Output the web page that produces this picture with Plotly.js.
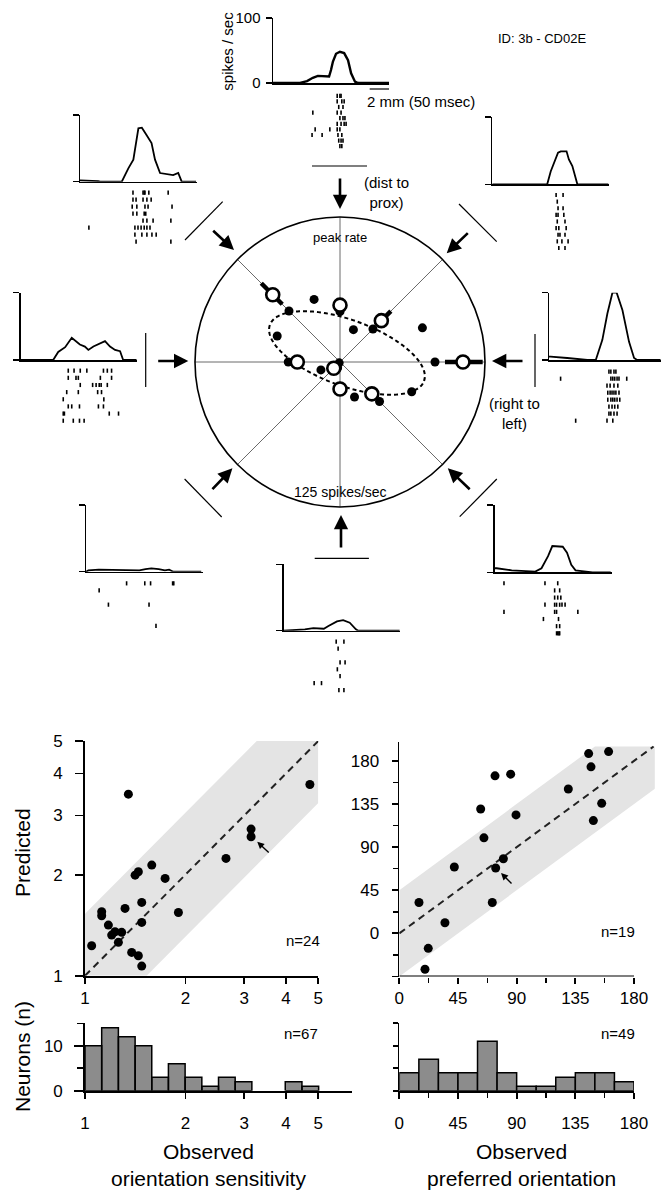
<!DOCTYPE html>
<html><head><meta charset="utf-8">
<script src="https://cdn.plot.ly/plotly-3.0.1.min.js"></script>
<style>body{margin:0;background:#fff}#chart{width:668px;height:1200px}</style>
</head><body><div id="chart"></div>
<script>
// ================= DATA =================
// PSTHs (time in msec, rate in spikes/sec) for the 8 stimulus directions
const tN  = [0,70,88,103,116,135,145,150,155,163,173,184,194,202,212,220,300];
const rN  = [0,0,3,8,11,11,10,20,33,45,48,46,35,15,2,0,0];
const tNW = [0,8,47,52,108,125,138,151,160,172,185,194,207,241,254,263,300];
const rNW = [2,2,1,0,0,20,33,80,81,70,58,33,13,10,13,0,0];
const tNE = [0,142,151,160,170,177,192,198,207,220,300];
const rNE = [0,0,19,32,47,49,49,37,27,0,0];
const tW  = [0,84,97,115,132,140,153,166,175,188,205,218,231,244,257,265,300];
const rW  = [0,0,12,19,33,29,23,20,15,20,25,28,20,15,13,0,0];
const tE  = [0,4,47,99,121,138,151,164,175,190,207,220,228,289];
const rE  = [5,5,3,0,0,30,69,100,100,74,27,3,0,0];
const tSW = [0,6,33,55,71,138,154,169,188,204,215,226,298];
const rSW = [0,2,3,3,2,2,4,5,4,2,3,0,0];
const tS  = [0,55,77,104,116,138,154,171,187,193,300];
const rS  = [0,2,4,3,7,14,16,12,2,0,0];
const tSE = [0,5,44,105,121,138,149,176,187,198,209,243,253,300];
const rSE = [6,6,3,1,6,24,39,38,29,11,3,1,0,0];

// Spike rasters: one list of spike times (msec) per trial
const spikesN = [[166,173,176],[166,178,184],[170,181],[103,166,176],[173,181,186],
  [166,176,184,189],[109,147,166,173],[101,127,168,178],[170,176,181],[173,178]];
const spikesNW = [[137,163,166,168,178,228],[137,145,163,173,184],[135,147,168,176,238],
  [137,147,166,170],[163,173,189,235],[23,142,150,158,166,173,181],[142,160,173,186,197],[145,235]];
const spikesNE = [[165,183],[168],[170,183],[165,170,185],[168,188],[165,172,191],
  [170,175,188],[168,180,196],[172,188]];
const spikesW = [[123,138,154,171,214,224,235],[123,143,149,206,235],[154,186,195,203,208,224],
  [119,149,199,209],[110,215],[123,132,152,201,214],[110,113,229,253],[110,136,152,164]];
const spikesE = [[155,160,168,173],[30,160,165,170,176,181,201],[150,158,168,178],
  [152,158,163,168,173,181],[152,160,165,170,176,183],[155,163,170,178],[155,160,168,176],[69,150,165]];
const spikesSW = [[105,152,167,224,227],[34],[],[58,163],[],[],[181]];
const spikesS = [[136,156],[141],[],[146,159],[139],[146],[79,98],[143,156]];
const spikesSE = [[24,130,163],[155,168],[155,163,171],[130,155,160,168,174,182],
  [24,155,160,215],[126,165],[160,168],[160,163,166,168]];

// Polar tuning (spikes/sec, direction in degrees, 0 = rightward, counterclockwise)
const openTheta = [0,45,90,135,180,225,270,315];
const openRate  = [106,50.4,49,82,36.8,7.6,23.3,38.8];
const errTheta  = [0,45,90,135];
const errLow    = [90.5,45,45,70.4];
const errHigh   = [123,62,55,96];
const dotTheta  = [0,22.5,45,67.5,90,112.5,135,157.5,180,202.5,225,247.5,270,292.5,315,337.5];
const dotRate   = [81.9,76.9,40.2,30.2,43.4,58.4,62.2,58.6,44.6,17.8,1,5.4,21,32.7,48.2,66.9];
// fitted ellipse (spikes/sec)
const ellipseCx = 6.0, ellipseCy = 7.8, ellipseA = 70.7, ellipseB = 28.4, ellipseTiltDeg = -20;

// Bottom: observed vs predicted orientation sensitivity (n=24)
const sensObs  = [1.047,1.122,1.122,1.175,1.202,1.230,1.259,1.288,1.318,1.349,1.380,1.413,
  1.445,1.445,1.479,1.479,1.479,1.585,1.738,1.905,2.645,3.145,3.145,4.718];
const sensPred = [1.228,1.551,1.509,1.415,1.321,1.352,1.257,1.346,1.586,3.473,1.173,1.993,
  2.039,1.147,1.653,1.441,1.068,2.135,1.949,1.543,2.235,2.733,2.593,3.71];
const sensBandX = [1,1,3.27,5,5,1.53,1];
const sensBandY = [1,1.53,5,5,3.27,1,1];
const sensUnityX = [1,5], sensUnityY = [1,5];
const sensArrow = {x:3.28, y:2.505};

// Observed vs predicted preferred orientation (deg, n=19)
const oriObs  = [15.1,22.2,19.7,35.0,42.2,62.4,64.9,71.3,73.4,73.9,79.8,85.4,89.5,129.6,145.2,147.0,148.8,155.2,160.5];
const oriPred = [32.2,-15.6,-37.4,11.1,69.2,129.8,99.7,32.2,164.4,68.2,77.9,166.1,123.6,150.6,187.6,173.8,117.7,135.7,189.7];
const oriBandX = [0,0,150,196,196,0];
const oriBandY = [-45,45,195,195,151,-45];
const oriUnityX = [0,195], oriUnityY = [0,195];
const oriArrow = {x:78, y:63};

// Histograms
const sensBinEdges = [1,1.122,1.259,1.413,1.585,1.778,1.995,2.239,2.512,2.818,3.162,3.548,3.981,4.467,5.012];
const sensCounts   = [10,14,12,10,3,6,3,1,3,2,0,0,2,1];
const oriBinCenters = [7.5,22.5,37.5,52.5,67.5,82.5,97.5,112.5,127.5,142.5,157.5,172.5];
const oriCounts     = [4,7,4,4,11,4,1,1,3,4,4,2];

// ================= LAYOUT HELPERS =================
const W = 668, H = 1200;
const px = v => v / W;
const py = v => 1 - v / H;
const domX = (a, b) => [a / W, b / W];
const domY = (top, bottom) => [1 - bottom / H, 1 - top / H];
const MS_PER_PX = 2.586;
const FONT = 'Liberation Sans, Arial, Helvetica, sans-serif';

const traces = [];
const layout = {
  width: W, height: H, margin: {l:0, r:0, t:0, b:0},
  paper_bgcolor: '#fff', plot_bgcolor: 'rgba(0,0,0,0)', showlegend: false,
  font: {family: FONT, color: '#000', size: 15},
  shapes: [], annotations: []
};

// ---------- PSTH panels ----------
const panels = [
  {t:tN,  r:rN,  s:spikesN,  x:[273,389],     rate:[18,83],      raster:[93,149],     labels:true, lw:2.4},
  {t:tNW, r:rNW, s:spikesNW, x:[80,197],      rate:[115,181.7],  raster:[189.2,245.2]},
  {t:tNE, r:rNE, s:spikesNE, x:[492.3,609],   rate:[117,184.3],  raster:[191.7,251.3]},
  {t:tW,  r:rW,  s:spikesW,  x:[20.7,136.7],  rate:[292.7,360],  raster:[367.1,424.3]},
  {t:tE,  r:rE,  s:spikesE,  x:[549,660.7],   rate:[292.7,360],  raster:[368.2,424.2]},
  {t:tSW, r:rSW, s:spikesSW, x:[86,203],      rate:[505,571.7],  raster:[579.8,629.5]},
  {t:tS,  r:rS,  s:spikesS,  x:[283.6,400],   rate:[564.3,630.7],raster:[638.2,693.5]},
  {t:tSE, r:rSE, s:spikesSE, x:[494.7,612],   rate:[505,572.3],  raster:[579.7,636.9]}
];
panels.forEach((p, i) => {
  const xi = 5 + i, yi = 5 + i, ri = 13 + i;
  layout['xaxis' + xi] = {domain: domX(p.x[0], p.x[1]), range: [0, (p.x[1]-p.x[0]) * MS_PER_PX],
    anchor: 'y' + yi, showline: true, linewidth: 1.5, linecolor: '#000', ticks: '',
    showticklabels: false, showgrid: false, zeroline: false, fixedrange: true};
  layout['yaxis' + yi] = {domain: domY(p.rate[0], p.rate[1]), range: [0, 100], anchor: 'x' + xi,
    showline: true, linewidth: 1.5, linecolor: '#000', ticks: 'outside', tickvals: [0, 100],
    ticklen: 6, tickwidth: 1.5, tickcolor: '#000', showticklabels: !!p.labels,
    tickfont: {size: 15}, ticklabelstandoff: 2, showgrid: false, zeroline: false, fixedrange: true};
  layout['yaxis' + ri] = {domain: domY(p.raster[0], p.raster[1]), range: [p.s.length + 0.5, 0.5],
    anchor: 'x' + xi, visible: false, fixedrange: true};
  traces.push({type: 'scatter', mode: 'lines', x: p.t, y: p.r, xaxis: 'x' + xi, yaxis: 'y' + yi,
    line: {color: '#000', width: p.lw || 1.8}, hoverinfo: 'skip'});
  const sx = [], sy = [];
  p.s.forEach((trial, k) => trial.forEach(tt => { sx.push(tt); sy.push(k + 1); }));
  traces.push({type: 'scatter', mode: 'markers', x: sx, y: sy, xaxis: 'x' + xi, yaxis: 'y' + ri,
    cliponaxis: false, hoverinfo: 'skip',
    marker: {symbol: 'line-ns-open', size: 3, color: '#000', line: {width: 1.6, color: '#000'}}});
});
// scale bar 50 msec on top panel
layout.shapes.push({type: 'line', xref: 'x5', yref: 'paper', x0: 250, x1: 300, y0: py(89), y1: py(89),
  line: {color: '#000', width: 1.2}});

// ---------- Polar diagram ----------
layout.polar = {
  domain: {x: domX(195, 485), y: domY(217, 507)},
  bgcolor: 'rgba(0,0,0,0)',
  radialaxis: {range: [0, 125], visible: false},
  angularaxis: {direction: 'counterclockwise', rotation: 0, tickmode: 'linear', tick0: 0, dtick: 45,
    showgrid: true, gridcolor: '#444', gridwidth: 0.8, showline: true, linecolor: '#000',
    linewidth: 1.6, ticks: '', showticklabels: false}
};
// ellipse
const ellR = [], ellT = [];
const tilt = ellipseTiltDeg * Math.PI / 180;
for (let k = 0; k <= 180; k++) {
  const s = k * 2 * Math.PI / 180;
  const ex = ellipseCx + ellipseA * Math.cos(s) * Math.cos(tilt) - ellipseB * Math.sin(s) * Math.sin(tilt);
  const ey = ellipseCy + ellipseA * Math.cos(s) * Math.sin(tilt) + ellipseB * Math.sin(s) * Math.cos(tilt);
  ellR.push(Math.hypot(ex, ey)); ellT.push(Math.atan2(ey, ex) * 180 / Math.PI);
}
traces.push({type: 'scatterpolar', mode: 'lines', r: ellR, theta: ellT,
  line: {color: '#000', width: 2, dash: '4px,3px'}, hoverinfo: 'skip'});
traces.push({type: 'scatterpolar', mode: 'markers', r: dotRate, theta: dotTheta,
  marker: {size: 9, color: '#000'}, hoverinfo: 'skip'});
const eR = [], eT = [];
errTheta.forEach((th, k) => { eR.push(errLow[k], errHigh[k], null); eT.push(th, th, null); });
traces.push({type: 'scatterpolar', mode: 'lines', r: eR, theta: eT,
  line: {color: '#000', width: 4.5}, hoverinfo: 'skip'});
traces.push({type: 'scatterpolar', mode: 'markers', r: openRate, theta: openTheta,
  marker: {size: 13, color: '#fff', line: {color: '#000', width: 2.6}}, hoverinfo: 'skip'});

// stimulus bars around the circle
const bar = (x0, y0, x1, y1) => layout.shapes.push({type: 'line', xref: 'paper', yref: 'paper',
  x0: px(x0), y0: py(y0), x1: px(x1), y1: py(y1), line: {color: '#000', width: 1.2}});
bar(312, 166, 367, 166);
bar(185, 240, 222.7, 201.7);
bar(459, 204, 496.7, 241.7);
bar(145.7, 333, 145.7, 387);
bar(535, 334, 535, 387);
bar(184.6, 479, 221.7, 517);
bar(496.8, 479, 459.7, 516.7);
bar(314.7, 558.3, 368.9, 558.3);

// arrows
const arrow = (hx, hy, tx, ty) => layout.annotations.push({xref: 'paper', yref: 'paper',
  x: px(hx), y: py(hy), ax: tx - hx, ay: ty - hy, text: '', showarrow: true,
  arrowhead: 2, arrowsize: 1.1, arrowwidth: 2.6, arrowcolor: '#000'});
arrow(340, 209, 340, 177);
arrow(446.7, 253.3, 469.3, 231.7);
arrow(492, 361, 524, 361);
arrow(447.8, 468.3, 471.2, 490.7);
arrow(341, 515, 341, 549);
arrow(232.4, 468.3, 211, 490.7);
arrow(188.3, 361, 156.7, 361);
arrow(234, 250, 211.7, 229.3);

// texts (top)
const txt = (text, x, y, size, extra) => layout.annotations.push(Object.assign({xref: 'paper', yref: 'paper',
  x: px(x), y: py(y), text: text, showarrow: false, font: {size: size, family: FONT, color: '#000'},
  xanchor: 'center', yanchor: 'middle'}, extra || {}));
txt('ID: 3b - CD02E', 541.7, 38.3, 13);
txt('2 mm (50 msec)', 421.3, 102, 15);
txt('spikes / sec', 228, 51.7, 15, {textangle: -90});
txt('(dist to<br>prox)', 386.7, 192, 15);
txt('(right to<br>left)', 514, 413.3, 15);
txt('peak rate', 340, 237, 13);
txt('125 spikes/sec', 340, 492, 14);

// ---------- Bottom scatter plots ----------
const axBase = {showline: true, linewidth: 1.8, linecolor: '#000', ticks: 'outside', tickwidth: 1.8,
  tickcolor: '#000', showgrid: false, zeroline: false, tickfont: {size: 17}, fixedrange: true};
layout.xaxis = Object.assign({}, axBase, {type: 'log', domain: domX(85, 318.3), range: [0, Math.log10(5)],
  anchor: 'y', tickvals: [1,2,3,4,5], ticktext: ['1','2','3','4','5'], ticklen: 6});
layout.yaxis = Object.assign({}, axBase, {type: 'log', domain: domY(741, 975.7), range: [0, Math.log10(5)],
  anchor: 'x', tickvals: [1,2,3,4,5], ticktext: ['1','2','3','4','5'], ticklen: 8, ticklabelstandoff: 9});
layout.xaxis2 = Object.assign({}, axBase, {domain: domX(399.3, 654.9), range: [0, 196], anchor: 'y2',
  showline: false, tickvals: [0,45,90,135,180], ticklen: 6,
  minor: {tickvals: [22.5,67.5,112.5,157.5], ticks: 'outside', ticklen: 5, tickwidth: 1.5, tickcolor: '#000'}});
layout.yaxis2 = Object.assign({}, axBase, {domain: domY(741.7, 976.5), range: [-45, 200], anchor: 'x2',
  tickvals: [-45,0,45,90,135,180], ticktext: ['','0','45','90','135','180'], ticklen: 6, ticklabelstandoff: 9,
  minor: {tickvals: [-22.5,22.5,67.5,112.5,157.5], ticks: 'outside', ticklen: 5, tickwidth: 1.5, tickcolor: '#000'}});
layout.shapes.push({type: 'line', xref: 'x2', yref: 'y2', x0: 0, x1: 180, y0: -45, y1: -45,
  line: {color: '#000', width: 1.8}});

traces.push({type: 'scatter', mode: 'lines', x: sensBandX, y: sensBandY, xaxis: 'x', yaxis: 'y',
  fill: 'toself', fillcolor: '#e4e4e4', line: {width: 0}, hoverinfo: 'skip'});
traces.push({type: 'scatter', mode: 'lines', x: sensUnityX, y: sensUnityY, xaxis: 'x', yaxis: 'y',
  line: {color: '#222', width: 2, dash: '7px,5px'}, hoverinfo: 'skip'});
traces.push({type: 'scatter', mode: 'markers', x: sensObs, y: sensPred, xaxis: 'x', yaxis: 'y',
  cliponaxis: false, marker: {size: 9, color: '#000'}});

traces.push({type: 'scatter', mode: 'lines', x: oriBandX, y: oriBandY, xaxis: 'x2', yaxis: 'y2',
  fill: 'toself', fillcolor: '#e4e4e4', line: {width: 0}, hoverinfo: 'skip'});
traces.push({type: 'scatter', mode: 'lines', x: oriUnityX, y: oriUnityY, xaxis: 'x2', yaxis: 'y2',
  line: {color: '#222', width: 2, dash: '7px,5px'}, hoverinfo: 'skip'});
traces.push({type: 'scatter', mode: 'markers', x: oriObs, y: oriPred, xaxis: 'x2', yaxis: 'y2',
  cliponaxis: false, marker: {size: 9, color: '#000'}});

layout.annotations.push({xref: 'x', yref: 'y', x: Math.log10(sensArrow.x), y: Math.log10(sensArrow.y),
  ax: 13, ay: 12, text: '', showarrow: true, arrowhead: 2, arrowsize: 1, arrowwidth: 1.4, arrowcolor: '#000'});
layout.annotations.push({xref: 'x2', yref: 'y2', x: oriArrow.x, y: oriArrow.y,
  ax: 12, ay: 12, text: '', showarrow: true, arrowhead: 2, arrowsize: 1, arrowwidth: 1.4, arrowcolor: '#000'});

// ---------- Histograms ----------
layout.xaxis3 = Object.assign({}, axBase, {type: 'log', domain: domX(85, 352), range: [0, 0.8], anchor: 'y3',
  tickvals: [1,2,3,4,5], ticktext: ['1','2','3','4','5'], ticklen: 6, ticklabelstandoff: 10});
layout.yaxis3 = Object.assign({}, axBase, {domain: domY(1023.3, 1090.7), range: [0, 15], anchor: 'x3',
  tickvals: [0,10], ticktext: ['0','10'], ticklen: 9, ticklabelstandoff: 8,
  minor: {tickvals: [5,15], ticks: 'outside', ticklen: 6, tickwidth: 1.5, tickcolor: '#000'}});
layout.xaxis4 = Object.assign({}, axBase, {domain: domX(399.3, 634), range: [0, 180], anchor: 'y4',
  tickvals: [0,45,90,135,180], ticklen: 6, ticklabelstandoff: 10,
  minor: {tickvals: [22.5,67.5,112.5,157.5], ticks: 'outside', ticklen: 5, tickwidth: 1.5, tickcolor: '#000'}});
layout.yaxis4 = Object.assign({}, axBase, {domain: domY(1023.3, 1090.7), range: [0, 15], anchor: 'x4',
  tickvals: [0,5,10,15], showticklabels: false, ticklen: 5});

const hx = [], hy = [];
sensCounts.forEach((c, k) => {
  if (c <= 0) return;
  const a = sensBinEdges[k], b = sensBinEdges[k + 1];
  hx.push(a, a, b, b, a, null); hy.push(0, c, c, 0, 0, null);
});
traces.push({type: 'scatter', mode: 'lines', x: hx, y: hy, xaxis: 'x3', yaxis: 'y3',
  fill: 'toself', fillcolor: '#8c8c8c', line: {color: '#000', width: 1.5}, hoverinfo: 'skip'});
traces.push({type: 'bar', x: oriBinCenters, y: oriCounts, width: 15, xaxis: 'x4', yaxis: 'y4',
  marker: {color: '#8c8c8c', line: {color: '#000', width: 1.5}}, hoverinfo: 'skip'});

// bottom texts
txt('Predicted', 22, 853, 21, {textangle: -90});
txt('Neurons (n)', 22, 1057, 21, {textangle: -90});
txt('Observed<br>orientation sensitivity', 208, 1165, 21);
txt('Observed<br>preferred orientation', 521.7, 1165, 21);
txt('n=24', 321.7, 940.7, 15, {xanchor: 'right'});
txt('n=19', 636.7, 931.7, 15, {xanchor: 'right'});
txt('n=67', 320, 1033.3, 15, {xanchor: 'right'});
txt('n=49', 636.7, 1033.3, 15, {xanchor: 'right'});

Plotly.newPlot('chart', traces, layout, {staticPlot: true, displayModeBar: false});
</script></body></html>
